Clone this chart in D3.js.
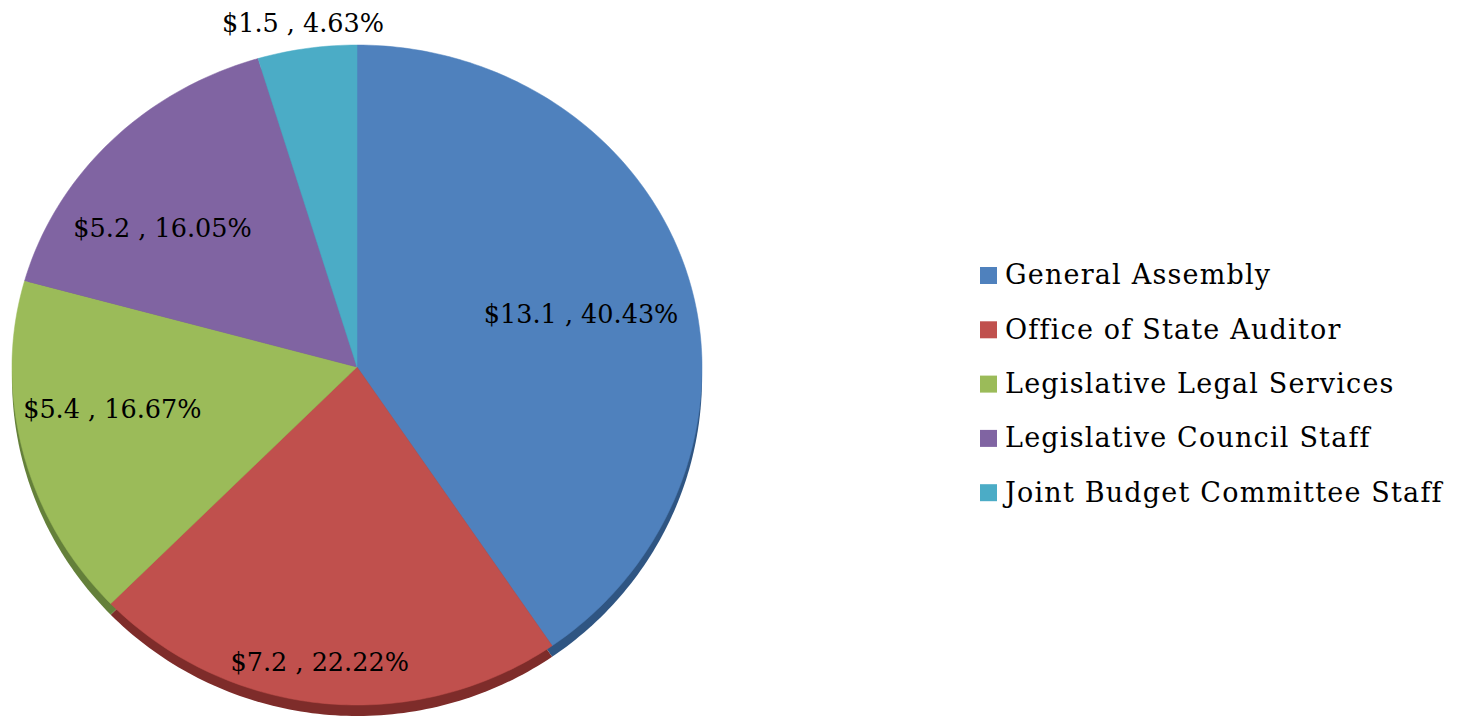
<!DOCTYPE html>
<html>
<head>
<script src="https://d3js.org/d3.v7.min.js"></script>
<style>
  body { margin: 0; background: #fff; }
  text { font-family: "DejaVu Serif", "Liberation Serif", serif; fill: #000; }
</style>
</head>
<body>
<svg width="1469" height="720"></svg>
<script>
var categories = ["General Assembly", "Office of State Auditor", "Legislative Legal Services",
                  "Legislative Council Staff", "Joint Budget Committee Staff"];
var values = [13.1, 7.2, 5.4, 5.2, 1.5];
var colors = ["#4f81bd", "#c0504d", "#9bbb59", "#8064a2", "#4bacc6"];
var sideColors = ["#2f5582", "#7e2c2a", "#64803a", "#55406f", "#2f7a8e"];

// label placement (best-fit style): fraction of radius, angle nudge in degrees
var labelRadius = [0.67, 0.88, 0.72, 0.71, 1.08];
var labelShift = [3, 1.5, 4.5, -7, 0];

var svg = d3.select("svg");
var cx = 357, cy = 367, rx = 345, ryTop = 322, ryBottom = 338, depth = 11;
var total = d3.sum(values);

var pie = d3.pie().sort(null).value(function(d) { return d; });
var arcs = pie(values);

function pt(a, r, dy) {
  var ry = Math.cos(a) > 0 ? ryTop : ryBottom;
  return [cx + r * rx * Math.sin(a), cy - r * ry * Math.cos(a) + (dy || 0)];
}

function slicePath(d, dy) {
  var pts = [pt(0, 0, dy)];
  var n = Math.max(4, Math.ceil((d.endAngle - d.startAngle) * 60));
  for (var i = 0; i <= n; i++) {
    pts.push(pt(d.startAngle + (d.endAngle - d.startAngle) * i / n, 1, dy));
  }
  return d3.line()(pts) + "Z";
}

function labelPos(d, i) {
  var a = (d.startAngle + d.endAngle) / 2 + labelShift[i] * Math.PI / 180;
  return pt(a, labelRadius[i]);
}

// side of the disc
svg.append("g").selectAll("path")
  .data(arcs)
  .enter().append("path")
  .attr("d", function(d) { return slicePath(d, depth); })
  .attr("fill", function(d, i) { return sideColors[i]; });

// top face
svg.append("g").selectAll("path")
  .data(arcs)
  .enter().append("path")
  .attr("d", function(d) { return slicePath(d, 0); })
  .attr("fill", function(d, i) { return colors[i]; })
  .attr("stroke", function(d, i) { return colors[i]; })
  .attr("stroke-width", 0.5);

// data labels
svg.append("g").selectAll("text")
  .data(arcs)
  .enter().append("text")
  .attr("x", function(d, i) { return labelPos(d, i)[0]; })
  .attr("y", function(d, i) { return labelPos(d, i)[1]; })
  .attr("dy", "0.35em")
  .attr("text-anchor", "middle")
  .style("font-size", "25.5px")
  .text(function(d) {
    return "$" + d.data + " , " + (d.data / total * 100).toFixed(2) + "%";
  });

// legend
var legend = svg.append("g").attr("transform", "translate(980,275)");
var rows = legend.selectAll("g")
  .data(categories)
  .enter().append("g")
  .attr("transform", function(d, i) { return "translate(0," + i * 54.3 + ")"; });

rows.append("rect")
  .attr("x", 0).attr("y", -8)
  .attr("width", 17).attr("height", 17)
  .attr("fill", function(d, i) { return colors[i]; });

rows.append("text")
  .attr("x", 25)
  .attr("dy", "0.35em")
  .style("font-size", "27px")
  .style("letter-spacing", "1.2px")
  .text(function(d) { return d; });
</script>
</body>
</html>
